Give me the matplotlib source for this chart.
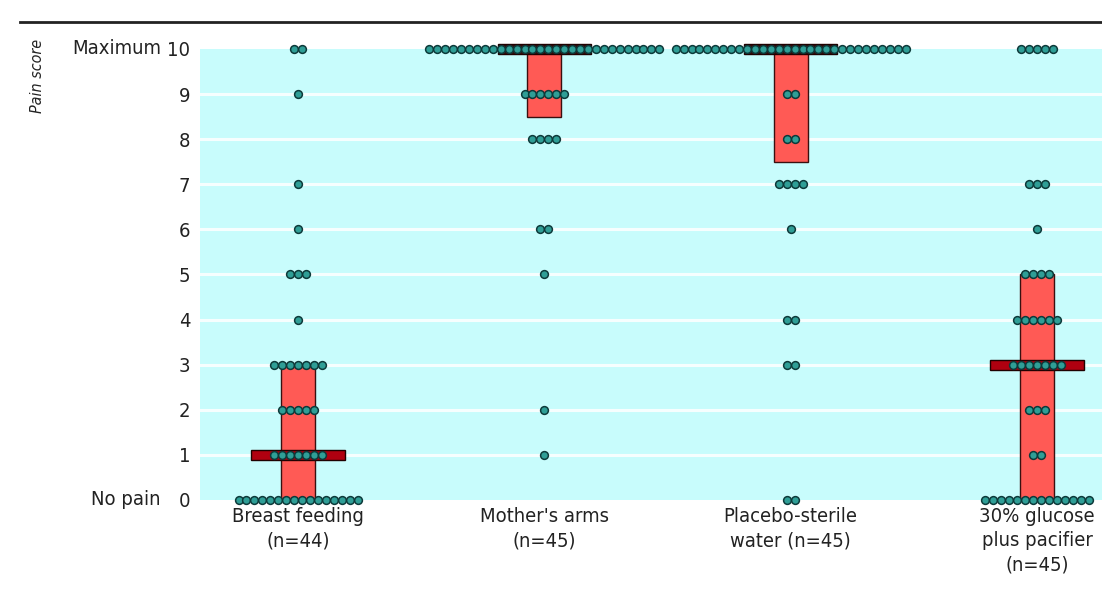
import numpy as np
import matplotlib
matplotlib.use('Agg')
import matplotlib.pyplot as plt
from matplotlib.lines import Line2D
from matplotlib.transforms import blended_transform_factory

plt.rcParams['font.family'] = ['DejaVu Sans']
plt.rcParams['font.stretch'] = 'condensed'

groups = ['Breast feeding\n(n=44)', "Mother's arms\n(n=45)",
          'Placebo-sterile\nwater (n=45)', '30% glucose\nplus pacifier\n(n=45)']
scores = list(range(11))
# number of infants at each pain score 0..10
counts_breast = [16, 7, 5, 7, 1, 3, 1, 1, 0, 1, 2]
counts_mother = [0, 1, 1, 0, 0, 1, 2, 0, 4, 6, 30]
counts_placebo = [2, 0, 0, 2, 2, 0, 1, 4, 2, 2, 30]
counts_glucose = [14, 2, 3, 7, 6, 4, 1, 3, 0, 0, 5]
all_counts = [counts_breast, counts_mother, counts_placebo, counts_glucose]
# interquartile range and median
q1 = [0, 8.5, 7.5, 0]
q3 = [3, 10, 10, 5]
medians = [1, 10, 10, 3]

fig = plt.figure(figsize=(11.02, 5.98), dpi=100)
ax = fig.add_axes([0.1815, 0.1639, 0.8185, 0.7542])
ax.set_facecolor('#c8fcfc')
ax.set_xlim(-0.398, 3.264)
ax.set_ylim(0, 10)

for y in range(1, 10):
    ax.axhline(y, color='white', lw=2.2, alpha=0.85, zorder=1)

spacing = 0.0322
bar_w = 0.138
med_w = 0.378
med_h = 0.22
for i, cnt in enumerate(all_counts):
    ax.bar(i, q3[i] - q1[i], bottom=q1[i], width=bar_w, color='#ff5a55',
           edgecolor='#3a1010', lw=1, zorder=2)
    med_col = '#b00010' if medians[i] < 10 else '#3a0a0a'
    ax.bar(i, med_h, bottom=medians[i] - med_h / 2, width=med_w,
           color=med_col, edgecolor='#200000', lw=1, zorder=3, clip_on=False)
    for s, n in zip(scores, cnt):
        if n == 0:
            continue
        xs = i + (np.arange(n) - (n - 1) / 2) * spacing
        ax.plot(xs, np.full(n, s), 'o', ms=5.6, mfc='#2f9e96', mec='#0d3a3a',
                mew=1.1, zorder=4, clip_on=False)

for sp in ax.spines.values():
    sp.set_visible(False)

ax.set_yticks(scores)
ax.set_yticklabels([str(s) for s in scores], fontsize=14.5, color='#222222')
ax.tick_params(axis='y', length=0, pad=7)
ax.set_xticks(range(4))
ax.set_xticklabels(groups, fontsize=14.5, linespacing=1.35, color='#222222')
ax.tick_params(axis='x', length=0, pad=5)

tr = blended_transform_factory(fig.transFigure, ax.transData)
ax.text(0.146, 10, 'Maximum', transform=tr, ha='right', va='center',
        fontsize=14.5, color='#222222')
ax.text(0.146, 0, 'No pain', transform=tr, ha='right', va='center',
        fontsize=14.5, color='#222222')

fig.text(0.034, 0.935, 'Pain score', rotation=90, ha='center', va='top',
         fontsize=11.5, style='italic', color='#222222')
fig.add_artist(Line2D([0.018, 1.0], [0.963, 0.963], color='#222222', lw=2,
                      transform=fig.transFigure))

fig.savefig('out.png', dpi=100, facecolor='white')
